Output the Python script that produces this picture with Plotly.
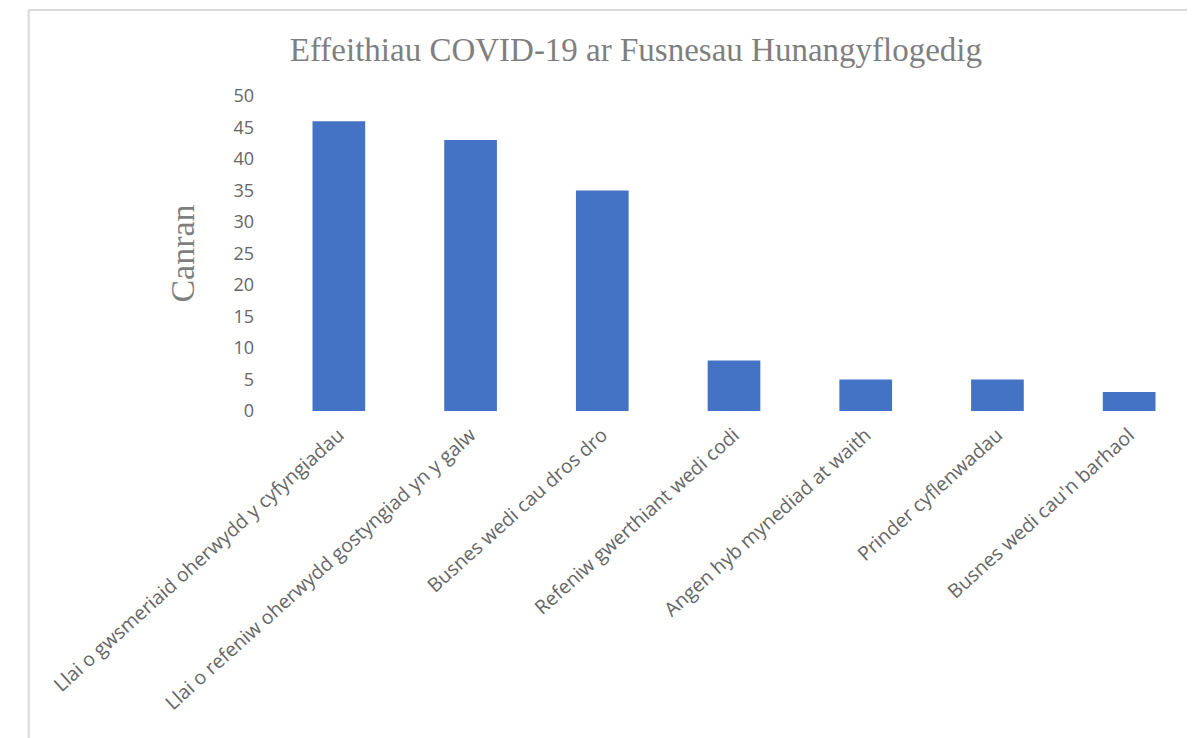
import plotly.graph_objects as go

categories = [
    "Llai o gwsmeriaid oherwydd y cyfyngiadau",
    "Llai o refeniw oherwydd gostyngiad yn y galw",
    "Busnes wedi cau dros dro",
    "Refeniw gwerthiant wedi codi",
    "Angen hyb mynediad at waith",
    "Prinder cyflenwadau",
    "Busnes wedi cau'n barhaol",
]
canran = [46, 43, 35, 8, 5, 5, 3]
y_ticks = [0, 5, 10, 15, 20, 25, 30, 35, 40, 45, 50]

fig = go.Figure()

fig.add_trace(go.Bar(
    x=categories,
    y=canran,
    marker=dict(color='#4472C4', line=dict(width=0)),
    hovertemplate='<b>%{x}</b><br>%{y}%<extra></extra>'
))

# page body adds an 8px margin, so the figure is sized to fit the window
fig.update_layout(
    width=1187,
    height=730,
    paper_bgcolor='white',
    plot_bgcolor='white',
    showlegend=False,
    bargap=0.6,
    margin=dict(l=265, r=0, t=88, b=327),
    title=dict(
        text='Effeithiau COVID-19 ar Fusnesau Hunangyflogedig',
        x=0.529, xanchor='center',
        y=0.943, yanchor='middle',
        font=dict(family='Liberation Serif', size=33, color='#7f7f7f')
    ),
    font=dict(family='Open Sans', size=18, color='#666666'),
    xaxis=dict(
        tickangle=-42,
        showgrid=False,
        showline=False,
        zeroline=False,
        ticklabelstandoff=8,
        tickfont=dict(size=19.5, color='#666666'),
    ),
    yaxis=dict(
        range=[0, 50],
        tickvals=y_ticks,
        showgrid=False,
        showline=False,
        zeroline=False,
        ticklabelstandoff=18,
        tickfont=dict(size=18, color='#666666'),
        title=dict(text='Canran', standoff=28,
                   font=dict(family='Liberation Serif', size=34, color='#7f7f7f')),
    ),
    # light grey chart frame (Excel chart area border)
    shapes=[
        dict(type='line', xref='paper', yref='paper',
             x0=-0.265, x1=-0.265, y0=1.273, y1=-1.1,
             line=dict(color='#d9d9d9', width=2)),
        dict(type='line', xref='paper', yref='paper',
             x0=-0.265, x1=1.01, y0=1.273, y1=1.273,
             line=dict(color='#d9d9d9', width=2)),
    ],
)

fig.write_html("out.html")
